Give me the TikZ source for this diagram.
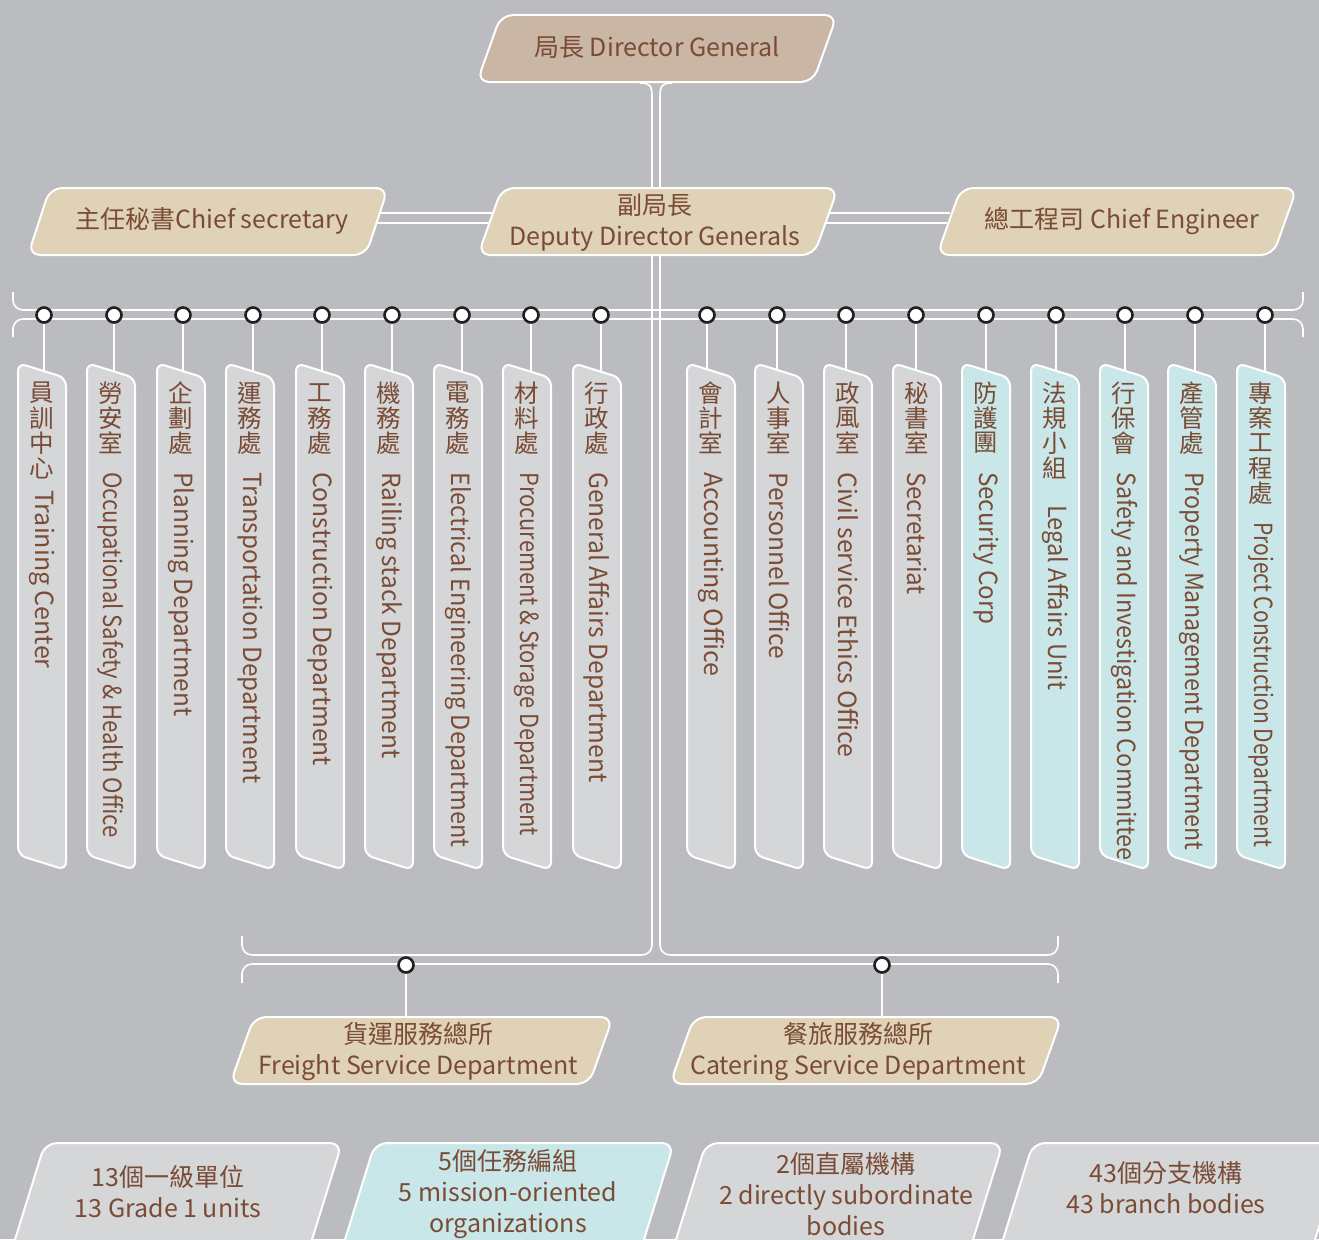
\documentclass[tikz,border=0pt]{standalone}
\usepackage{graphicx}
\usepackage{fontspec}
\setmainfont{Noto Sans CJK TC}
\definecolor{bg}{HTML}{BBBCC0}
\definecolor{graybox}{HTML}{D5D6D8}
\definecolor{cyanbox}{HTML}{C9E7E8}
\definecolor{beige}{HTML}{DFD2B7}
\definecolor{tanbox}{HTML}{C9B6A4}
\definecolor{txt}{HTML}{7A4B35}
\definecolor{ring}{HTML}{231F20}
\tikzset{
  line/.style={white, line width=1.6pt},
  bframe/.style={draw=white, line width=2pt, rounded corners=12pt},
  vframe/.style={draw=white, line width=2pt, rounded corners=8pt},
  dot/.style={circle, draw=ring, fill=white, line width=2.6pt, minimum size=15pt, inner sep=0pt},
  lbl/.style={text=txt, font=\fontsize{25}{31}\selectfont, align=center, inner sep=0pt},
  cn/.style={text=txt, font=\fontsize{24.5}{25}\selectfont, inner sep=0pt},
}
\newcommand\pbox[6]{% fill, x bottom-left, y top, x top-right, y bottom, slant
  \filldraw[bframe, fill=#1] ({(#2+#6+#4)/2},#3) -- (#4,#3) -- (#4-#6,#5) -- (#2,#5) -- (#2+#6,#3) -- cycle;}
\newcommand\unitbox[8]{% idx, circle x, left x, fill, chinese chars, english, english start y, x-scale
  \node[dot] (d#1) at (#2,315) {};
  \filldraw[vframe, fill=#4] (#3,600) -- (#3,363) -- (#3+48,378) -- (#3+48,870) -- (#3,855) -- cycle;
  \coordinate (t#1) at (#2,{363+15*(#2-#3)/48});
  \draw[line] (d#1) -- (t#1);
  \foreach \ch [count=\k from 0] in {#5} {\node[cn] (c#1-\k) at (#3+24,393+25*\k) {\ch};}
  \node[lbl, rotate=-90, anchor=west] (e#1) at (#3+24,#7) {\scalebox{#8}[1]{#6}};
}
\newcommand\legbox[3]{% x top-left, x top-right, fill
  \filldraw[bframe, fill=#3] ({(#1+#2)/2},1143) -- (#2,1143) -- (#2-41,1275) -- (#1-41,1275) -- (#1,1143) -- cycle;}
\begin{document}
\begin{tikzpicture}[x=1pt,y=-1pt]
\useasboundingbox (0,0) rectangle (1319,1239);
\clip (0,0) rectangle (1319,1239);
\fill[bg] (0,0) rectangle (1319,1239);

% trunk lines
\coordinate (dgL) at (640,83);
\coordinate (dgR) at (672,83);
\draw[line] (dgL) .. controls (650,83) and (652,86) .. (652,96) -- (652,190);
\draw[line] (dgR) .. controls (662,83) and (660,86) .. (660,96) -- (660,190);
\draw[line, rounded corners=10pt] (652,253) -- (652,955) -- (242,955) -- (242,936);
\draw[line, rounded corners=10pt] (660,253) -- (660,955) -- (1058,955) -- (1058,936);
\draw[line, rounded corners=10pt] (242,983) -- (242,964) -- (1058,964) -- (1058,983);
% top bracket
\draw[line, rounded corners=10pt] (13,292) -- (13,310) -- (1303,310) -- (1303,292);
\draw[line, rounded corners=10pt] (13,337) -- (13,319) -- (1303,319) -- (1303,337);
% side links
\draw[line] (376,213) -- (494,213);
\draw[line] (373,223) -- (491,223);
\draw[line] (826,213) -- (950,213);
\draw[line] (822,223) -- (947,223);

% top boxes
\pbox{tanbox}{477}{15}{837}{82}{24}
\node[lbl] (dg) at (657,48) {局長 Director General};
\pbox{beige}{28}{188}{388}{255}{22}
\node[lbl] (cs) at (212,221) {主任秘書Chief secretary};
\pbox{beige}{478}{188}{838}{255}{24}
\node[lbl] (ddg) at (655,223) {副局長\\Deputy Director Generals};
\pbox{beige}{937}{188}{1297}{255}{24}
\node[lbl] (ce) at (1122,221) {總工程司 Chief Engineer};

% units
\unitbox{1}{44}{18}{graybox}{員,訓,中,心}{Training Center}{490}{1}
\unitbox{2}{114}{87}{graybox}{勞,安,室}{Occupational Safety \& Health Office}{472}{0.886}
\unitbox{3}{183}{157}{graybox}{企,劃,處}{Planning Department}{472}{0.975}
\unitbox{4}{253}{226}{graybox}{運,務,處}{Transportation Department}{472}{0.973}
\unitbox{5}{322}{296}{graybox}{工,務,處}{Construction Department}{472}{0.988}
\unitbox{6}{392}{365}{graybox}{機,務,處}{Railing stack Department}{472}{0.978}
\unitbox{7}{462}{434}{graybox}{電,務,處}{Electrical Engineering Department}{472}{0.938}
\unitbox{8}{531}{503}{graybox}{材,料,處}{Procurement \& Storage Department}{472}{0.872}
\unitbox{9}{601}{573}{graybox}{行,政,處}{General Affairs Department}{472}{0.984}
\unitbox{10}{707}{687}{graybox}{會,計,室}{Accounting Office}{472}{1}
\unitbox{11}{777}{755}{graybox}{人,事,室}{Personnel Office}{472}{0.984}
\unitbox{12}{846}{824}{graybox}{政,風,室}{Civil service Ethics Office}{472}{0.997}
\unitbox{13}{916}{893}{graybox}{秘,書,室}{Secretariat}{472}{0.966}
\unitbox{14}{986}{962}{cyanbox}{防,護,團}{Security Corp}{472}{0.966}
\unitbox{15}{1056}{1031}{cyanbox}{法,規,小,組}{Legal Affairs Unit}{505}{0.948}
\unitbox{16}{1125}{1100}{cyanbox}{行,保,會}{Safety and Investigation Committee}{472}{0.935}
\unitbox{17}{1195}{1168}{cyanbox}{產,管,處}{Property Management Department}{472}{0.929}
\unitbox{18}{1265}{1237}{cyanbox}{專,案,工,程,處}{Project Construction Department}{522}{0.842}

% service departments
\node[dot] (b1) at (406,965) {};
\node[dot] (b2) at (882,965) {};
\coordinate (fs) at (406,1018);
\coordinate (csd) at (882,1018);
\draw[line] (b1) -- (fs);
\draw[line] (b2) -- (csd);
\pbox{beige}{230}{1017}{613}{1084}{24}
\node[lbl] (fsd) at (418,1052) {貨運服務總所\\Freight Service Department};
\pbox{beige}{670}{1017}{1062}{1084}{24}
\node[lbl] (cat) at (858,1052) {餐旅服務總所\\Catering Service Department};

% legend
\legbox{45}{342}{graybox}
\node[lbl] (l1) at (168,1192) {13個一級單位\\13 Grade 1 units};
\legbox{375}{674}{cyanbox}
\node[lbl] (l2) at (508,1194) {5個任務編組\\5 mission-oriented\\organizations};
\legbox{706}{1003}{graybox}
\node[lbl] (l3) at (846,1194) {2個直屬機構\\2 directly subordinate\\bodies};
\legbox{1033}{1345}{graybox}
\node[lbl] (l4) at (1166,1188) {43個分支機構\\43 branch bodies};
\end{tikzpicture}
\end{document}
